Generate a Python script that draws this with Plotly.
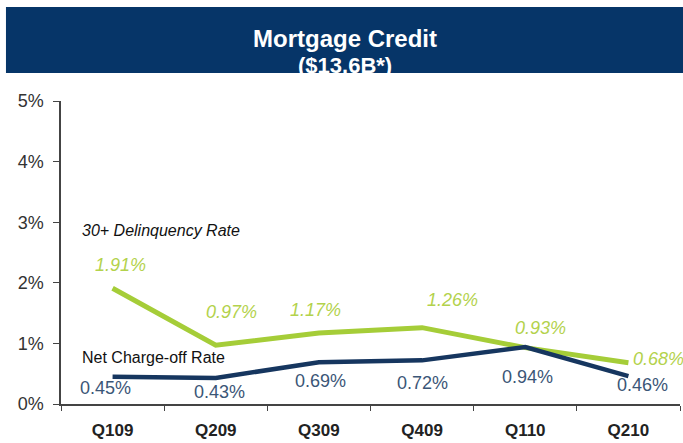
import plotly.graph_objects as go

quarters = ["Q109", "Q209", "Q309", "Q409", "Q110", "Q210"]
delinquency = [1.91, 0.97, 1.17, 1.26, 0.93, 0.68]
charge_off = [0.45, 0.43, 0.69, 0.72, 0.94, 0.46]
y_ticks = [0, 1, 2, 3, 4, 5]
y_tick_labels = ["0%", "1%", "2%", "3%", "4%", "5%"]

# label offsets in pixels (layout only)
delq_off = [(8, 23), (16, 33), (-3, 23), (30, 28), (15, 20), (30, 4)]
nco_off = [(-7, -11), (4, -14), (2, -19), (0, -23), (2, -30), (14, -9)]

GREEN = "#a5cd38"
GREEN_TXT = "#b3d24c"
NAVY = "#16365f"
NAVY_TXT = "#3b5677"
FONT = "Liberation Sans, Arial, sans-serif"

fig = go.Figure()
fig.add_trace(go.Scatter(x=quarters, y=delinquency, mode="lines",
                         line=dict(color=GREEN, width=5), hoverinfo="skip"))
fig.add_trace(go.Scatter(x=quarters, y=charge_off, mode="lines",
                         line=dict(color=NAVY, width=4.5), hoverinfo="skip"))

ann = []
for q, v, (dx, dy) in zip(quarters, delinquency, delq_off):
    ann.append(dict(x=q, y=v, xref="x", yref="y", text=f"<i>{v:.2f}%</i>",
                    showarrow=False, xshift=dx, yshift=dy,
                    xanchor="center", yanchor="middle",
                    font=dict(family=FONT, size=18, color=GREEN_TXT)))
for q, v, (dx, dy) in zip(quarters, charge_off, nco_off):
    ann.append(dict(x=q, y=v, xref="x", yref="y", text=f"{v:.2f}%",
                    showarrow=False, xshift=dx, yshift=dy,
                    xanchor="center", yanchor="middle",
                    font=dict(family=FONT, size=18, color=NAVY_TXT)))

ann.append(dict(x=0.0307, y=0.571, xref="paper", yref="paper",
                xanchor="left", yanchor="middle",
                text="<i>30+ Delinquency Rate</i>", showarrow=False,
                font=dict(family=FONT, size=16, color="#111111")))
ann.append(dict(x=0.0307, y=0.155, xref="paper", yref="paper",
                xanchor="left", yanchor="middle",
                text="Net Charge-off Rate", showarrow=False,
                font=dict(family=FONT, size=16, color="#111111")))
ann.append(dict(x=0.459, y=1.205, xref="paper", yref="paper",
                xanchor="center", yanchor="middle",
                text="<b>Mortgage Credit</b>", showarrow=False,
                font=dict(family=FONT, size=24, color="white")))
ann.append(dict(x=0.459, y=1.118, xref="paper", yref="paper",
                xanchor="center", yanchor="middle",
                text="<b>($13.6B*)</b>", showarrow=False,
                font=dict(family=FONT, size=22, color="white")))

fig.update_layout(
    width=683, height=443,
    margin=dict(l=61, r=3, t=101, b=39),
    paper_bgcolor="white", plot_bgcolor="white",
    showlegend=False,
    annotations=ann,
    shapes=[dict(type="rect", xref="paper", yref="paper",
                 x0=-0.0889, x1=1.01, y0=1.092, y1=1.310,
                 fillcolor="#063568", line=dict(width=0), layer="below")],
    xaxis=dict(range=[-0.5, 5.5], showline=True, linecolor="#444444", linewidth=1.5,
               ticks="outside", ticklen=5, tickcolor="#444444", tickson="boundaries",
               showgrid=False, zeroline=False, ticklabelstandoff=10,
               tickfont=dict(family=FONT, size=17, color="#222222"),
               tickvals=quarters, ticktext=[f"<b>{q}</b>" for q in quarters]),
    yaxis=dict(range=[0, 5], showline=True, linecolor="#444444", linewidth=1.5,
               ticks="outside", ticklen=6, tickcolor="#444444",
               showgrid=False, zeroline=False, ticklabelstandoff=6,
               tickvals=y_ticks, ticktext=y_tick_labels,
               tickfont=dict(family=FONT, size=18, color="#333333")),
)

fig.write_html("out.html", config={"displayModeBar": False},
               post_script="document.body.style.margin='0';")
